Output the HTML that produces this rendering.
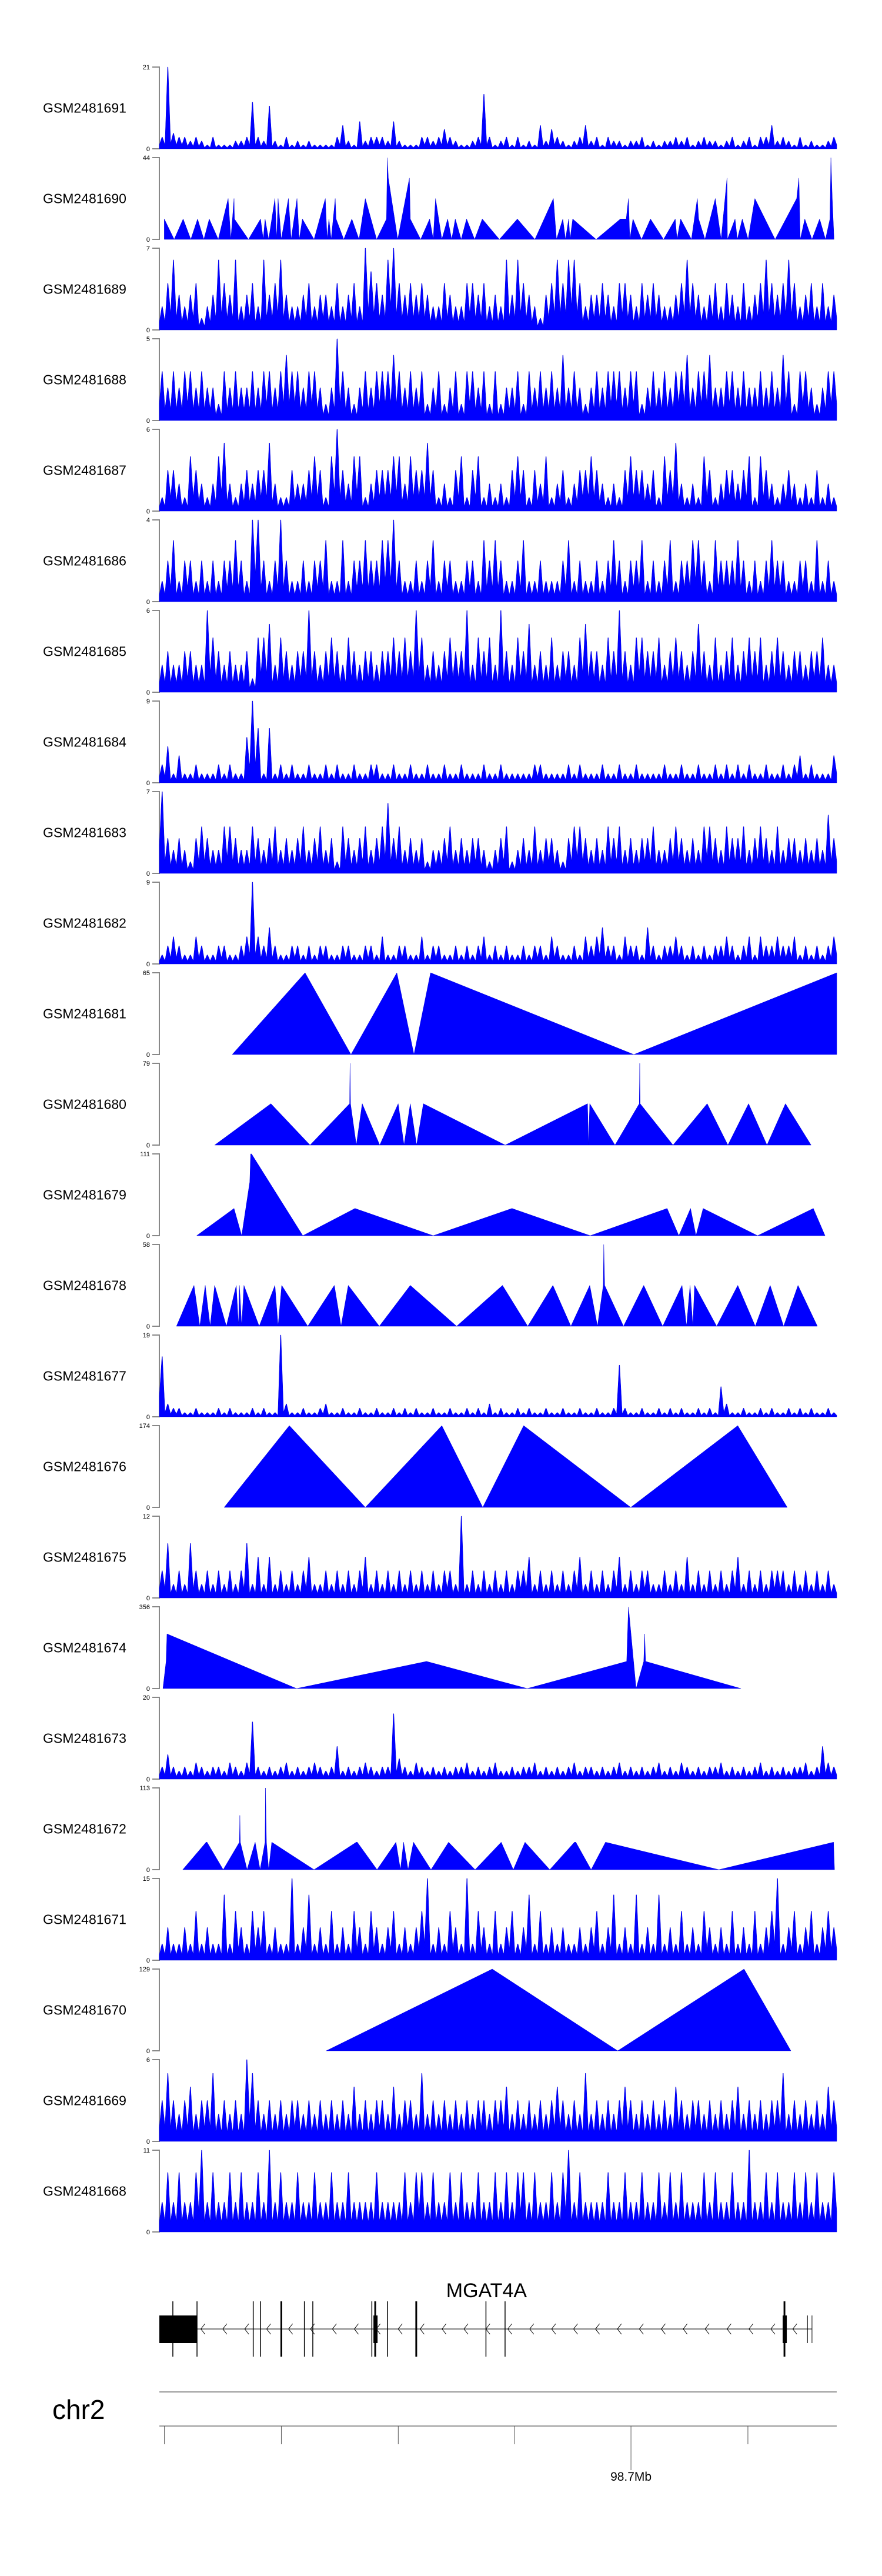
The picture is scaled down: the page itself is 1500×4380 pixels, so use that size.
<!DOCTYPE html>
<html><head><meta charset="utf-8"><title>Coverage tracks MGAT4A</title>
<style>
html,body{margin:0;padding:0;background:#fff;}
svg{display:block;}
text{font-family:"Liberation Sans",Arial,sans-serif;}
</style></head>
<body>
<svg id="chart" xmlns="http://www.w3.org/2000/svg" width="1500" height="4380" viewBox="0 0 1500 4380">
<g id="tracks"></g>
<g id="gene"></g>
<g id="axis"></g>
</svg>
<script>
// ---------- data ----------
const sampleNames = ["GSM2481691","GSM2481690","GSM2481689","GSM2481688","GSM2481687","GSM2481686","GSM2481685","GSM2481684","GSM2481683","GSM2481682","GSM2481681","GSM2481680","GSM2481679","GSM2481678","GSM2481677","GSM2481676","GSM2481675","GSM2481674","GSM2481673","GSM2481672","GSM2481671","GSM2481670","GSM2481669","GSM2481668"];
const sampleMax = [21,44,7,5,6,4,6,9,7,9,65,79,111,58,19,174,12,356,20,113,15,129,6,11];

// dense (binned) tracks: bin peak values
const bins1691 = [3,21,4,3,3,2,3,2,1,3,1,1,1,2,2,3,12,3,2,11,2,1,3,1,2,1,2,1,1,1,1,3,6,2,1,7,2,3,3,3,2,7,2,1,1,1,3,3,2,3,5,3,2,1,1,2,3,14,3,1,2,3,1,3,1,2,1,6,2,5,3,2,1,2,3,6,2,3,1,3,2,2,1,2,2,3,1,2,1,2,2,3,2,3,1,2,3,2,2,1,2,3,1,2,3,1,3,3,6,2,3,2,1,3,1,2,1,1,2,3];
const bins1689 = [2,4,6,3,2,3,4,1,2,3,6,4,3,6,2,3,4,2,6,3,4,6,3,2,2,3,4,2,3,3,2,4,2,3,4,2,7,5,4,3,6,7,4,3,4,3,4,3,2,2,4,3,2,2,4,4,3,4,2,3,2,6,3,6,4,3,2,1,3,4,6,4,6,6,4,2,3,3,4,3,2,4,4,3,2,4,3,4,3,2,2,3,4,6,4,3,2,3,4,2,4,3,2,4,2,3,4,6,4,3,4,6,4,2,3,4,2,4,2,3];
const bins1688 = [3,2,3,2,3,3,2,3,2,2,1,3,2,3,2,2,3,2,3,3,2,3,4,3,3,2,3,3,2,1,2,5,3,2,1,2,3,2,3,3,3,4,3,2,3,2,3,1,2,3,1,2,3,1,3,3,2,3,1,3,1,2,2,3,1,3,2,3,2,3,2,4,2,3,2,1,2,3,2,3,3,3,2,3,3,1,2,3,2,3,2,3,3,4,2,3,3,4,2,2,3,3,2,3,2,2,3,2,3,2,4,3,1,3,3,2,1,2,3,3];
const bins1687 = [1,3,3,2,1,4,3,2,1,2,4,5,2,1,2,3,2,3,3,5,2,1,1,3,2,2,3,4,3,1,4,6,3,2,4,4,1,2,3,3,3,4,4,2,4,3,3,5,3,1,2,1,3,4,1,3,4,1,2,1,2,1,3,4,3,1,3,2,4,1,2,3,1,2,3,3,4,3,2,1,2,1,3,4,3,3,2,3,1,4,3,5,2,1,2,1,4,3,1,2,3,3,2,3,4,1,4,3,2,1,2,3,2,1,2,1,3,1,2,1];
const bins1686 = [1,2,3,1,2,2,1,2,1,2,1,2,2,3,2,1,4,4,2,1,2,4,2,1,1,2,1,2,2,3,1,1,3,1,2,2,3,2,2,3,3,4,2,1,1,2,1,2,3,1,2,2,1,1,2,2,1,3,2,3,2,1,1,2,3,1,1,2,1,1,1,2,3,1,2,1,1,2,1,2,3,2,1,2,2,3,1,2,1,2,3,1,2,2,3,3,2,1,3,2,2,2,3,2,1,2,1,2,3,2,2,1,1,2,2,1,3,1,2,1];
const bins1685 = [2,3,2,2,3,3,2,2,6,4,3,2,3,2,2,3,1,4,4,5,2,4,3,2,3,3,6,3,2,3,4,3,2,4,3,2,3,3,2,3,3,4,3,4,3,6,4,2,3,2,3,4,3,3,6,2,4,3,4,2,6,3,2,4,3,5,2,3,2,4,2,3,3,2,4,5,3,3,2,4,3,6,3,2,4,4,3,3,4,2,3,4,3,2,3,5,3,2,4,2,3,4,2,3,4,3,4,2,3,4,3,2,3,3,2,3,3,4,2,2];
const bins1684 = [2,4,1,3,1,1,2,1,1,1,2,1,2,1,1,5,9,6,1,6,1,2,1,2,1,1,2,1,1,2,1,2,1,1,2,1,1,2,2,1,1,2,1,1,2,1,1,2,1,1,2,1,1,2,1,1,1,2,1,1,2,1,1,1,1,1,2,2,1,1,1,1,2,1,2,1,1,1,2,1,1,2,1,1,2,1,1,1,1,2,1,1,2,1,1,2,1,1,2,1,2,1,2,1,2,1,1,2,1,1,2,1,2,3,1,2,1,1,1,3];
const bins1683 = [7,3,2,3,2,1,3,4,3,2,2,4,4,3,2,2,4,3,2,3,4,2,3,2,3,4,2,3,4,2,3,1,4,3,2,3,4,2,3,4,6,3,4,2,3,2,3,1,2,2,3,4,2,3,2,3,3,2,1,2,3,4,1,2,3,2,4,2,3,3,2,1,3,4,4,3,2,3,2,4,3,4,2,3,2,3,3,4,2,2,3,4,3,2,3,2,4,4,3,2,4,3,3,4,2,3,4,3,2,4,2,3,3,2,3,2,3,2,5,3];
const bins1682 = [1,2,3,2,1,1,3,2,1,1,2,2,1,1,2,3,9,3,2,4,2,1,1,2,2,1,2,1,2,2,1,1,2,2,1,1,2,2,1,3,1,1,2,2,1,1,3,1,2,2,1,1,2,1,2,1,2,3,1,2,1,2,1,1,2,1,2,2,1,3,2,1,1,2,1,3,2,3,4,2,2,1,3,2,2,1,4,2,1,2,2,3,2,1,2,1,2,1,2,2,3,2,1,2,3,1,3,2,2,3,2,2,3,1,2,1,2,1,2,3];
const bins1677 = [14,3,2,2,1,1,2,1,1,1,2,1,2,1,1,1,2,1,2,1,1,19,3,1,1,2,1,1,2,3,1,1,2,1,1,2,1,1,2,1,1,2,1,2,1,2,1,1,2,1,1,2,1,1,2,1,2,1,3,1,2,1,1,2,1,2,1,1,2,1,1,2,1,1,2,1,1,2,1,1,2,12,2,1,1,2,1,1,2,1,2,1,2,1,1,2,1,2,1,7,3,1,1,2,1,1,2,1,2,1,1,2,1,2,1,2,1,1,2,1];
const bins1675 = [4,8,2,4,2,8,4,2,4,2,4,2,4,2,4,8,2,6,2,6,2,4,2,4,2,4,6,2,2,4,2,4,2,4,2,4,6,2,4,2,4,2,4,2,4,2,4,2,4,2,4,4,2,12,2,4,2,4,2,4,2,4,2,4,4,6,2,4,2,4,2,4,2,4,6,2,4,2,4,2,4,6,2,4,2,4,4,2,2,4,2,4,2,6,2,4,2,4,2,4,2,4,6,2,4,2,4,2,4,4,4,2,4,2,4,2,4,2,4,2];
const bins1673 = [3,6,3,2,3,2,4,3,2,3,3,2,4,3,2,4,14,3,2,3,2,3,4,2,3,2,3,4,3,2,3,8,2,3,2,3,4,3,2,3,3,16,5,3,2,4,3,2,3,2,3,2,3,3,4,2,3,2,3,4,2,2,3,2,3,3,4,2,3,2,3,2,3,4,2,3,3,2,3,2,3,4,2,3,2,3,2,3,4,2,3,2,4,3,2,3,2,3,3,4,2,3,2,3,2,3,4,2,3,2,3,2,3,3,4,2,3,8,4,3];
const bins1671 = [3,6,3,3,6,3,9,3,6,3,3,12,3,9,6,3,9,6,9,3,6,3,3,15,3,6,12,3,6,3,9,3,6,3,9,6,3,9,6,3,6,9,3,6,3,6,9,15,3,6,3,9,6,3,15,3,9,6,3,9,3,6,9,3,6,12,3,9,3,6,3,6,3,3,6,3,6,9,3,6,12,3,6,3,12,3,6,3,12,3,6,3,9,3,6,3,9,6,3,6,3,9,3,6,3,9,3,6,9,15,3,6,9,3,6,9,3,6,9,6];
const bins1669 = [3,5,3,2,3,4,2,3,3,5,2,3,2,3,2,6,5,3,2,3,2,3,2,3,3,2,3,2,3,2,3,2,3,2,4,2,3,2,3,3,2,4,2,3,3,2,5,2,3,2,3,2,3,2,3,2,3,3,2,3,3,4,2,3,2,3,2,3,2,3,4,3,2,3,2,5,2,3,2,3,2,3,4,3,2,3,2,3,2,3,2,4,3,2,3,3,2,3,2,3,2,3,4,2,3,2,3,2,3,3,5,2,3,2,3,2,3,2,4,3];
const bins1668 = [4,8,4,8,4,4,8,11,4,8,4,4,8,4,8,4,4,8,4,11,4,8,4,4,8,4,4,8,4,4,8,4,4,8,4,4,4,4,8,4,4,4,4,8,4,8,8,4,8,4,4,8,4,8,4,4,8,4,4,8,4,8,4,8,8,4,8,4,4,8,4,8,11,4,8,4,4,4,4,8,4,4,8,4,4,8,4,4,8,4,8,4,8,4,4,4,8,4,8,4,4,8,4,4,11,4,4,8,4,8,4,4,8,4,8,4,8,4,4,8];

// sparse (piecewise) tracks: positions (genomic units 27..1533) and values
const pos1690 = [38,60,80,97,112,126,138,158,180,186,193,194,225,252,258,262,270,284,288,291,298,314,320,333,338,345,371,396,400,404,409,418,420,437,455,471,485,510,532,534,536,557,583,585,608,628,636,641,655,668,677,685,698,710,728,745,783,823,862,903,910,924,930,937,940,946,998,1052,1065,1070,1073,1080,1099,1119,1148,1174,1178,1186,1210,1223,1226,1240,1263,1276,1289,1290,1307,1312,1323,1336,1351,1396,1444,1449,1452,1462,1478,1495,1508,1518,1520,1523,1527];
const val1690 = [11,0,11,0,11,0,11,0,22,0,22,11,0,11,0,11,0,22,0,22,0,22,0,22,0,11,0,22,0,11,0,22,11,0,11,0,22,0,11,44,33,0,33,11,0,11,0,22,0,11,0,11,0,11,0,11,0,11,0,22,0,11,0,11,0,11,0,11,11,22,0,11,0,11,0,11,0,11,0,22,11,0,22,0,33,0,11,0,11,0,22,0,22,33,0,11,0,11,0,11,44,22,0];
const pos1681 = [189,351,453,555,593,630,1082,1533];
const val1681 = [0,65,0,65,0,65,0,65];
const pos1680 = [150,275,362,450,451,452,465,478,517,558,571,585,599,614,796,979,981,984,1040,1094,1095,1096,1169,1245,1291,1337,1378,1419,1476];
const val1680 = [0,40,0,40,79,40,0,40,0,40,0,40,0,40,0,40,0,40,0,40,79,40,0,40,0,40,0,40,0];
const pos1679 = [110,193,210,228,230,232,346,462,636,811,985,1156,1182,1208,1220,1236,1357,1481,1507];
const val1679 = [0,37,0,73,111,111,0,37,0,37,0,37,0,37,0,37,0,37,0];
const pos1678 = [65,104,117,129,140,150,176,198,203,205,210,215,249,284,291,299,357,416,431,447,516,585,688,790,846,902,942,984,1001,1014,1015,1017,1059,1104,1146,1189,1199,1207,1213,1217,1266,1313,1352,1385,1415,1447,1490];
const val1678 = [0,29,0,29,0,29,0,29,0,29,0,29,0,29,0,29,0,29,0,29,0,29,0,29,0,29,0,29,0,29,58,29,0,29,0,29,0,29,0,29,0,29,0,29,0,29,0];
const pos1676 = [171,316,485,655,746,837,1075,1313,1423];
const val1676 = [0,174,0,174,0,174,0,174,0];
const pos1674 = [35,42,44,332,621,845,1066,1070,1087,1104,1106,1108,1320];
const val1674 = [0,118,238,0,118,0,118,356,0,118,238,118,0];
const pos1672 = [79,131,133,169,205,206,207,222,240,251,262,263,265,270,277,371,465,467,511,553,563,570,580,592,631,670,729,787,814,840,895,950,953,987,1019,1271,1526,1528];
const val1672 = [0,38,38,0,38,75,38,0,38,0,38,113,38,0,38,0,38,38,0,38,0,38,0,38,0,38,0,38,0,38,0,38,38,0,38,0,38,0];
const pos1670 = [398,767,1046,1327,1431];
const val1670 = [0,129,0,129,0];

// gene model (x in gene-panel units 283..1488), exon line positions
const exonLines = [307,350,450,463,500,541,556,661,667,689,740,864,898,1395];
const thickExons = [500,667,740,1395];
const utrLines = [1436,1444];
// axis ticks
const tickPos = [292,500,708,915,1122,1330];
const tickLabels = ["","","","","98.7Mb",""];

// ---------- layout ----------
const NS = "http://www.w3.org/2000/svg";
const X0 = 271, X1 = 1423, TOP0 = 114, PITCH = 154, H = 139;
const posScale = p => X0 + (p - 27) / (1533 - 27) * (X1 - X0);
const binScale = (i, n) => X0 + i / n * (X1 - X0);
const geneX = g => X0 + (g - 283) * ((X1 - X0) / 1205);

const denseMap = {"GSM2481691":bins1691,"GSM2481689":bins1689,"GSM2481688":bins1688,"GSM2481687":bins1687,"GSM2481686":bins1686,"GSM2481685":bins1685,"GSM2481684":bins1684,"GSM2481683":bins1683,"GSM2481682":bins1682,"GSM2481677":bins1677,"GSM2481675":bins1675,"GSM2481673":bins1673,"GSM2481671":bins1671,"GSM2481669":bins1669,"GSM2481668":bins1668};
const sparseMap = {"GSM2481690":[pos1690,val1690],"GSM2481681":[pos1681,val1681],"GSM2481680":[pos1680,val1680],"GSM2481679":[pos1679,val1679],"GSM2481678":[pos1678,val1678],"GSM2481676":[pos1676,val1676],"GSM2481674":[pos1674,val1674],"GSM2481672":[pos1672,val1672],"GSM2481670":[pos1670,val1670]};

function mk(tag, attrs, parent) {
  const e = document.createElementNS(NS, tag);
  for (const k in attrs) e.setAttribute(k, attrs[k]);
  parent.appendChild(e);
  return e;
}

const tracksG = document.getElementById('tracks');
sampleNames.forEach((name, i) => {
  const top = TOP0 + PITCH * i, base = top + H, mx = sampleMax[i];
  const ys = v => base - v / mx * H;
  const g = mk('g', {}, tracksG);
  
  
  const lab = mk('text', {x: 73, y: top + H / 2 + 8, 'font-size': 23, fill: '#000'}, g);
  
  
  lab.textContent = name;
  const ax = mk('path', {d: `M259,${top}H${X0}V${base}H259`, fill: 'none', stroke: '#888', 'stroke-width': 2}, g);
  
  
  const t1 = mk('text', {x: 255, y: top + 4, 'font-size': 11, 'text-anchor': 'end', fill: '#000'}, g);
  
  
  t1.textContent = String(mx);
  const t0 = mk('text', {x: 255, y: base + 4, 'font-size': 11, 'text-anchor': 'end', fill: '#000'}, g);
  
  
  t0.textContent = '0';
  let d = '';
  if (denseMap[name]) {
    const arr = denseMap[name], n = arr.length;
    d = `M${X0},${base}`;
    for (let k = 0; k < n; k++) {
      const xa = binScale(k, n), xm = binScale(k + 0.5, n);
      const prev = k > 0 ? arr[k - 1] : arr[k];
      const floorV = 0.35 * Math.min(prev, arr[k]);
      d += `L${xa.toFixed(1)},${ys(floorV).toFixed(1)}L${(xm - 0.4).toFixed(1)},${ys(arr[k]).toFixed(1)}L${(xm + 0.4).toFixed(1)},${ys(arr[k]).toFixed(1)}`;
    }
    d += `L${X1},${ys(0.35 * arr[n - 1]).toFixed(1)}L${X1},${base}Z`;
  } else {
    const [ps, vs] = sparseMap[name];
    d = `M${posScale(ps[0]).toFixed(1)},${base}`;
    ps.forEach((p, k) => { d += `L${posScale(p).toFixed(1)},${ys(vs[k]).toFixed(1)}`; });
    d += `L${posScale(ps[ps.length - 1]).toFixed(1)},${base}Z`;
  }
  const area = mk('path', {d: d, fill: '#0000ff', stroke: '#0000dd', 'stroke-width': 0.5}, g);
  
  
});

// ---------- gene track ----------
const geneG = document.getElementById('gene');
const gl = mk('text', {x: geneX(865), y: 3906, 'font-size': 34, 'text-anchor': 'middle', fill: '#000'}, geneG);


gl.textContent = 'MGAT4A';
const intron = mk('line', {x1: geneX(350), x2: geneX(1444), y1: 3960, y2: 3960, stroke: '#000', 'stroke-width': 1}, geneG);


for (let c = 360; c < 1430; c += 39) {
  const cx = geneX(c);
  const ch = mk('polyline', {points: `${cx + 4},3951 ${cx - 3},3960 ${cx + 4},3969`, fill: 'none', stroke: '#000', 'stroke-width': 1}, geneG);
  
  
}
const utr = mk('rect', {x: geneX(283), y: 3937, width: geneX(350) - geneX(283), height: 47, fill: '#000'}, geneG);


exonLines.forEach(e => {
  const w = thickExons.includes(e) ? 3 : 1.5;
  const ln = mk('line', {x1: geneX(e), x2: geneX(e), y1: 3913, y2: 4007, stroke: '#000', 'stroke-width': w}, geneG);
  
  
});
[667, 1395].forEach(e => {
  const r = mk('rect', {x: geneX(e) - 3, y: 3937, width: 7, height: 47, fill: '#000'}, geneG);
  
  
});
utrLines.forEach(e => {
  const ln = mk('line', {x1: geneX(e), x2: geneX(e), y1: 3937, y2: 3984, stroke: '#000', 'stroke-width': 1}, geneG);
  
  
});

// ---------- genome axis ----------
const axG = document.getElementById('axis');
const chr = mk('text', {x: 89, y: 4113, 'font-size': 46, fill: '#000'}, axG);


chr.textContent = 'chr2';
[4067, 4125].forEach(y => {
  const l = mk('line', {x1: X0, x2: X1, y1: y, y2: y, stroke: '#999', 'stroke-width': 2}, axG);
  
  
});
tickPos.forEach((t, k) => {
  const x = geneX(t);
  const tl = mk('line', {x1: x, x2: x, y1: 4125, y2: tickLabels[k] ? 4200 : 4156, stroke: '#555', 'stroke-width': 1}, axG);
  
  
  if (tickLabels[k]) {
    const tx = mk('text', {x: x, y: 4218, 'font-size': 21, 'text-anchor': 'middle', fill: '#000'}, axG);
    
    
    tx.textContent = tickLabels[k];
  }
});
</script>
</body></html>
